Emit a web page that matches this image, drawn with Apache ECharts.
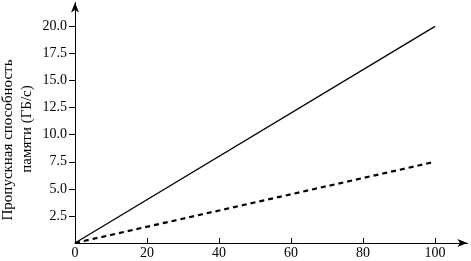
<!DOCTYPE html>
<html><head><meta charset="utf-8">
<script src="https://cdn.jsdelivr.net/npm/echarts@6/dist/echarts.min.js"></script>
<style>html,body{margin:0;padding:0;background:#fff}#c{width:471px;height:261px}</style>
</head><body><div id="c"></div>
<script>
const xValues = [0, 100];
const solidValues = [0, 20];
const dashedValues = [0, 7.5];
const yTicks = [2.5, 5, 7.5, 10, 12.5, 15, 17.5, 20];
const xTicks = [0, 20, 40, 60, 80, 100];
const yTitle1 = 'Пропускная способность';
const yTitle2 = 'памяти (ГБ/с)';

const font = 'Liberation Serif';
const chart = echarts.init(document.getElementById('c'), null, {renderer: 'canvas'});
chart.setOption({
  animation: false,
  backgroundColor: '#fff',
  grid: {left: 75, right: 3.6, top: 2.6, bottom: 18, containLabel: false},
  xAxis: {
    type: 'value', min: 0, max: 109, interval: 20,
    axisLine: {show: true, lineStyle: {color: '#000', width: 1}, symbol: ['none', 'arrow'], symbolSize: [6, 10]},
    axisTick: {show: true, inside: true, length: 5, lineStyle: {color: '#000'}, customValues: xTicks},
    axisLabel: {color: '#000', fontFamily: font, fontSize: 14, margin: 3, customValues: xTicks},
    splitLine: {show: false}
  },
  yAxis: {
    type: 'value', min: 0, max: 22.2, interval: 2.5,
    axisLine: {show: true, lineStyle: {color: '#000', width: 1}, symbol: ['none', 'arrow'], symbolSize: [6, 10]},
    axisTick: {show: true, inside: false, length: 6, lineStyle: {color: '#000'}, customValues: yTicks},
    axisLabel: {color: '#000', fontFamily: font, fontSize: 14, margin: 8, customValues: yTicks,
      formatter: v => v.toFixed(1)},
    splitLine: {show: false}
  },
  graphic: [
    {type: 'text', x: 8, y: 140, rotation: Math.PI / 2,
     style: {text: yTitle1, font: '15px "Liberation Serif"', fill: '#000', align: 'center', verticalAlign: 'middle'}},
    {type: 'text', x: 27, y: 129, rotation: Math.PI / 2,
     style: {text: yTitle2, font: '15px "Liberation Serif"', fill: '#000', align: 'center', verticalAlign: 'middle'}}
  ],
  series: [
    {type: 'line', data: xValues.map((x, i) => [x, solidValues[i]]), symbol: 'none',
     lineStyle: {color: '#000', width: 1.3, type: 'solid'}},
    {type: 'line', data: xValues.map((x, i) => [x, dashedValues[i]]), symbol: 'none',
     lineStyle: {color: '#000', width: 2.2, type: [5, 4]}}
  ]
});
</script></body></html>
